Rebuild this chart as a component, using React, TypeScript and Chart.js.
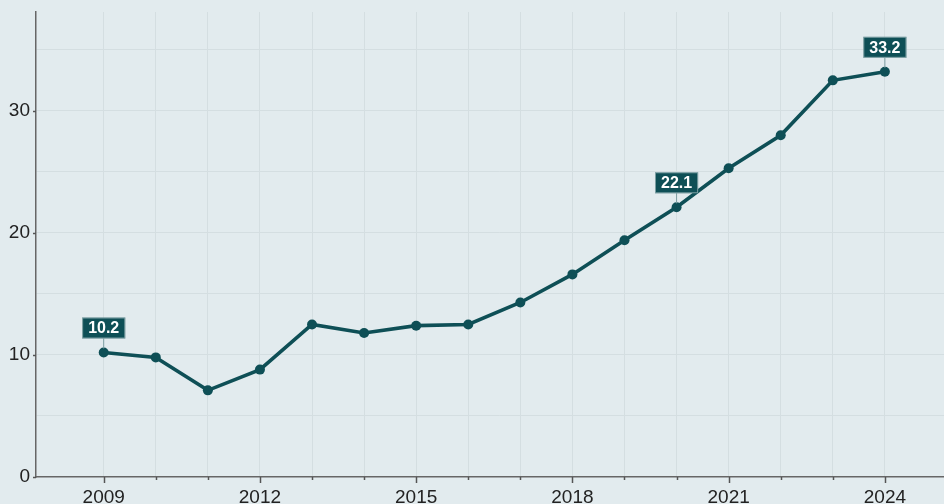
import React, { useEffect, useRef } from "react";
import { Chart, registerables } from "chart.js";

Chart.register(...registerables);

const years = [2009, 2010, 2011, 2012, 2013, 2014, 2015, 2016, 2017, 2018, 2019, 2020, 2021, 2022, 2023, 2024];
const values = [10.2, 9.8, 7.1, 8.8, 12.5, 11.8, 12.4, 12.5, 14.3, 16.6, 19.4, 22.1, 25.3, 28.0, 32.5, 33.2];
const labelledYears = [2009, 2020, 2024];
const xTickLabels = [2009, 2012, 2015, 2018, 2021, 2024];
const yTickLabels = [0, 10, 20, 30];
const yGridValues = [0, 5, 10, 15, 20, 25, 30, 35];

const LINE = "#0e4f56";
const BG = "#e2ebee";
const FONT = "'Liberation Sans', Arial, sans-serif";

const calloutPlugin = {
  id: "callouts",
  afterDatasetsDraw(chart: any) {
    const { ctx } = chart;
    const meta = chart.getDatasetMeta(0);
    ctx.save();
    ctx.font = `bold 16px ${FONT}`;
    meta.data.forEach((pt: any, i: number) => {
      const d = chart.data.datasets[0].data[i];
      if (!labelledYears.includes(d.x)) return;
      const text = d.y.toFixed(1);
      const w = ctx.measureText(text).width + 12;
      const h = 21;
      const cx = pt.x;
      const bottom = pt.y - 14;
      const top = bottom - h;
      ctx.strokeStyle = "#7d9ea2";
      ctx.lineWidth = 1;
      ctx.beginPath();
      ctx.moveTo(cx, bottom);
      ctx.lineTo(cx, pt.y - 4);
      ctx.stroke();
      ctx.fillStyle = LINE;
      ctx.fillRect(cx - w / 2, top, w, h);
      ctx.strokeStyle = "rgba(255,255,255,0.45)";
      ctx.strokeRect(cx - w / 2 + 0.5, top + 0.5, w - 1, h - 1);
      ctx.fillStyle = "#ffffff";
      ctx.textAlign = "center";
      ctx.textBaseline = "middle";
      ctx.fillText(text, cx, top + h / 2 + 1);
    });
    ctx.restore();
  },
};

const axisTicksPlugin = {
  id: "axisTicks",
  afterDraw(chart: any) {
    const { ctx, chartArea, scales } = chart;
    ctx.save();
    ctx.strokeStyle = "#555";
    ctx.lineWidth = 1.5;
    years.forEach((yr) => {
      const x = Math.round(scales.x.getPixelForValue(yr)) + 0.5;
      const len = xTickLabels.includes(yr) ? 6 : 3;
      ctx.beginPath();
      ctx.moveTo(x, chartArea.bottom);
      ctx.lineTo(x, chartArea.bottom + len);
      ctx.stroke();
    });
    yTickLabels.forEach((v) => {
      const y = Math.round(scales.y.getPixelForValue(v)) + 0.5;
      ctx.beginPath();
      ctx.moveTo(chartArea.left - 3, y);
      ctx.lineTo(chartArea.left, y);
      ctx.stroke();
    });
    ctx.restore();
  },
};

const bgPlugin = {
  id: "bgfill",
  beforeDraw(chart: any) {
    const { ctx, width, height } = chart;
    ctx.save();
    ctx.fillStyle = BG;
    ctx.fillRect(0, 0, width, height);
    ctx.restore();
  },
};

export default function App() {
  const ref = useRef<HTMLCanvasElement | null>(null);
  useEffect(() => {
    document.body.style.margin = "0";
    document.body.style.overflow = "hidden";
    document.body.style.background = BG;
    const chart = new Chart(ref.current as HTMLCanvasElement, {
      type: "line",
      data: {
        datasets: [
          {
            data: years.map((y, i) => ({ x: y, y: values[i] })),
            borderColor: LINE,
            backgroundColor: LINE,
            borderWidth: 3.6,
            pointRadius: 5,
            pointBackgroundColor: LINE,
            pointBorderWidth: 0,
            tension: 0,
          },
        ],
      },
      options: {
        responsive: false,
        animation: false,
        layout: { padding: { left: 0, right: 17, top: 12, bottom: 0 } },
        plugins: { legend: { display: false }, tooltip: { enabled: false }, title: { display: false } },
        scales: {
          x: {
            type: "linear",
            min: 2007.7,
            max: 2025.5,
            afterBuildTicks: (s: any) => {
              s.ticks = years.map((v) => ({ value: v }));
            },
            afterFit: (s: any) => {
              s.height = 53;
              s.paddingLeft = 0;
              s.paddingRight = 0;
            },
            ticks: {
              autoSkip: false,
              maxRotation: 0,
              padding: 9,
              color: "#222",
              font: { family: FONT, size: 19 },
              callback: (v: any) => (xTickLabels.includes(Number(v)) ? String(v) : ""),
            },
            grid: {
              color: "#d4dee1",
              lineWidth: 1,
              drawTicks: false,
            },
            border: { display: true, color: "#666", width: 1.5 },
          },
          y: {
            type: "linear",
            min: 0,
            max: 38.1,
            afterBuildTicks: (s: any) => {
              s.ticks = yGridValues.map((v) => ({ value: v }));
            },
            afterFit: (s: any) => {
              s.width = 36;
              s.paddingTop = 0;
              s.paddingBottom = 0;
            },
            ticks: {
              padding: 6,
              color: "#222",
              font: { family: FONT, size: 19 },
              callback: (v: any) => (yTickLabels.includes(Number(v)) ? String(v) : ""),
            },
            grid: {
              color: (c: any) => (c.tick && c.tick.value === 0 ? "rgba(0,0,0,0)" : "#d4dee1"),
              lineWidth: 1,
              drawTicks: false,
            },
            border: { display: true, color: "#666", width: 1.5 },
          },
        },
      } as any,
      plugins: [bgPlugin, calloutPlugin, axisTicksPlugin],
    });
    return () => chart.destroy();
  }, []);
  return (
    <div style={{ position: "fixed", left: 0, top: 0, width: 944, height: 504, overflow: "hidden", background: BG }}>
      <canvas ref={ref} width={980} height={530} style={{ display: "block", width: 980, height: 530 }} />
    </div>
  );
}
